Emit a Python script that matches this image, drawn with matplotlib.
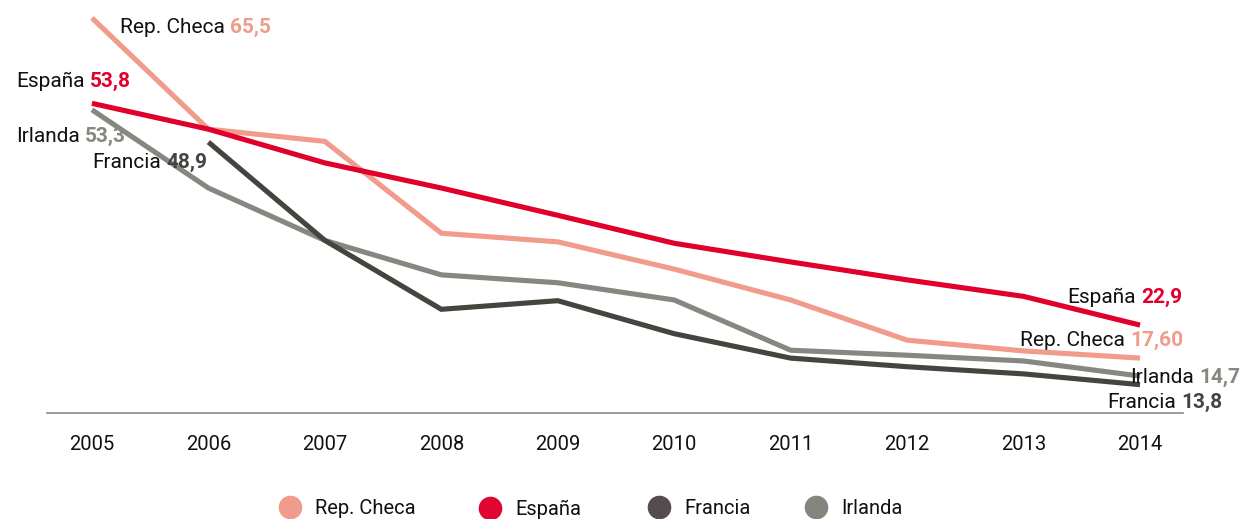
import matplotlib
matplotlib.use("Agg")
import matplotlib.pyplot as plt
from matplotlib.lines import Line2D

plt.rcParams['font.family'] = ['Roboto', 'DejaVu Sans']

years = [2005, 2006, 2007, 2008, 2009, 2010, 2011, 2012, 2013, 2014]

rep_checa = [65.7, 50.2, 48.5, 35.7, 34.5, 30.7, 26.4, 20.8, 19.3, 18.3]
espana = [53.8, 50.2, 45.5, 42.0, 38.2, 34.3, 31.7, 29.2, 26.9, 22.9]
francia_years = years[1:]
francia = [48.4, 34.7, 25.1, 26.3, 21.7, 18.3, 17.1, 16.1, 14.6]
irlanda = [52.9, 42.0, 34.7, 29.9, 28.8, 26.4, 19.4, 18.7, 17.9, 15.8]

names = ['Rep. Checa', 'España', 'Francia', 'Irlanda']
line_colors = ['#F09B8B', '#E0002B', '#45443F', '#868780']
legend_colors = ['#F09B8B', '#E0062F', '#554D4D', '#84857D']

# end labels: (series, text shown)
start_labels = [('Rep. Checa', '65,5'), ('España', '53,8'), ('Irlanda', '53,3'), ('Francia', '48,9')]
end_labels = [('España', '22,9'), ('Rep. Checa', '17,60'), ('Irlanda', '14,7'), ('Francia', '13,8')]

W, H = 1247, 519
fig = plt.figure(figsize=(W / 100, H / 100), dpi=100)
ax = fig.add_axes([47 / W, (H - 413) / H, (1183 - 47) / W, 413 / H])

series = {
    'Rep. Checa': (years, rep_checa),
    'España': (years, espana),
    'Francia': (francia_years, francia),
    'Irlanda': (years, irlanda),
}
zorders = {'Irlanda': 2, 'Francia': 3, 'Rep. Checa': 4, 'España': 5}
for name, col in zip(names, line_colors):
    xs, ys = series[name]
    ax.plot(xs, ys, color=col, lw=3.7, solid_joinstyle='miter',
            solid_capstyle='butt', clip_on=False, zorder=zorders[name])

ax.set_xlim(2004.614, 2014.369)
ax.set_ylim(10.65, 68.2)
for s in ['top', 'right', 'left']:
    ax.spines[s].set_visible(False)
ax.spines['bottom'].set_color('#8a8a8a')
ax.spines['bottom'].set_linewidth(1.2)
ax.set_yticks([])
ax.set_xticks(years)
ax.set_xticklabels([str(y) for y in years], fontsize=14.5, color='#111111')
ax.tick_params(axis='x', length=0, pad=16)

color_of = dict(zip(names, line_colors))
FS = 15


def label(name, value, x, y, dx, dy, align):
    col = color_of[name]
    if align == 'left':
        t = ax.annotate(name, xy=(x, y), xytext=(dx, dy), textcoords='offset pixels',
                        ha='left', va='baseline', fontsize=FS, color='#111111',
                        annotation_clip=False)
        ax.annotate(value, xy=(1, 0), xycoords=t, xytext=(5, 0),
                    textcoords='offset pixels', ha='left', va='bottom',
                    fontsize=FS, fontweight='bold', color=col, annotation_clip=False)
    else:
        t = ax.annotate(value, xy=(x, y), xytext=(dx, dy), textcoords='offset pixels',
                        ha='right', va='baseline', fontsize=FS, fontweight='bold',
                        color=col, annotation_clip=False)
        ax.annotate(name, xy=(0, 0), xycoords=t, xytext=(-5, 0),
                    textcoords='offset pixels', ha='right', va='bottom',
                    fontsize=FS, color='#111111', annotation_clip=False)


start_offsets = {'Rep. Checa': (28, -15, 'left'), 'España': (39, 16, 'right'),
                 'Irlanda': (34, -32, 'right'), 'Francia': (-1, -26, 'right')}
end_offsets = {'España': (42, 22, 'right'), 'Rep. Checa': (43, 12, 'right'),
               'Irlanda': (-10, -7, 'left'), 'Francia': (-33, -23, 'left')}

for name, val in start_labels:
    xs, ys = series[name]
    dx, dy, al = start_offsets[name]
    label(name, val, xs[0], ys[0], dx, dy, al)
for name, val in end_labels:
    xs, ys = series[name]
    dx, dy, al = end_offsets[name]
    label(name, val, xs[-1], ys[-1], dx, dy, al)

# legend, one entry each at its own spot
legend_x = [280, 480, 649, 806]
for name, col, lx in zip(names, legend_colors, legend_x):
    h = Line2D([], [], marker='o', color='none', markerfacecolor=col,
               markeredgecolor=col, markersize=16)
    lg = fig.legend([h], [name], loc='center left',
                    bbox_to_anchor=(lx / W, (H - 509) / H), frameon=False,
                    fontsize=14.5, handlelength=1.0, handletextpad=0.75,
                    borderpad=0, borderaxespad=0)
    for txt in lg.get_texts():
        txt.set_color('#111111')

fig.savefig('out.png', dpi=100)
